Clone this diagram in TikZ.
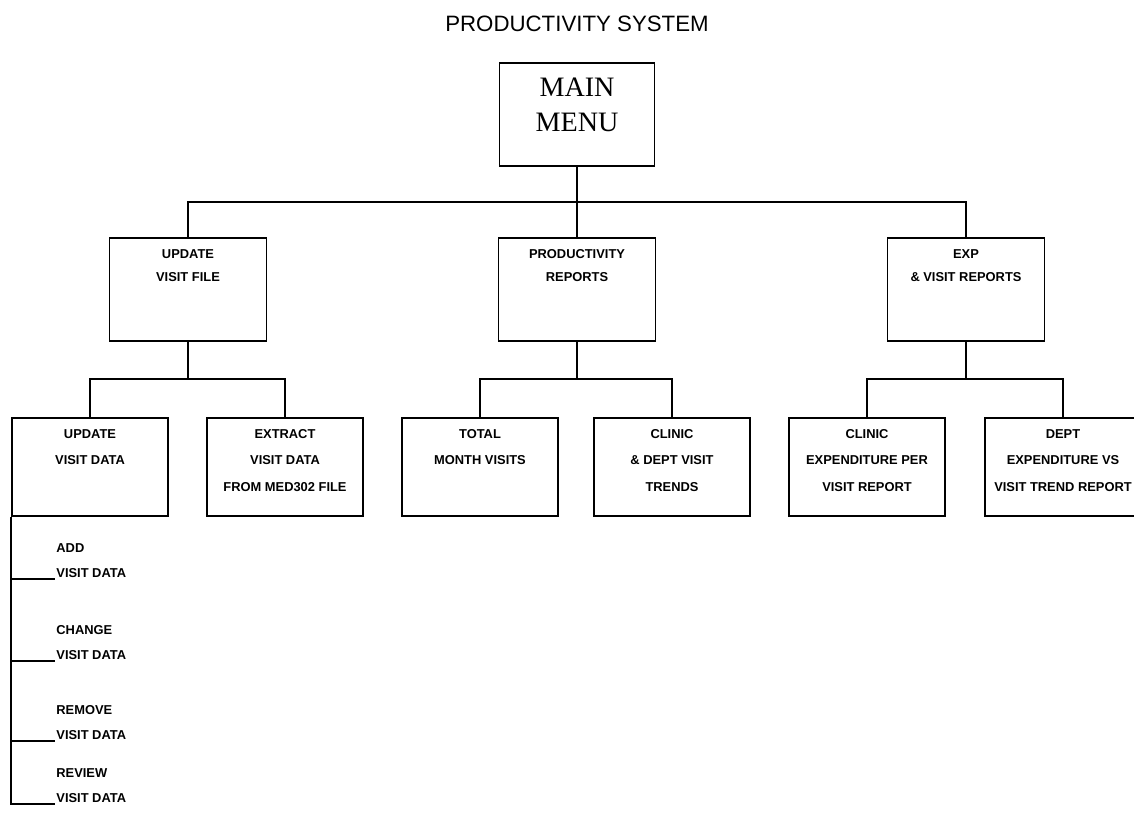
\documentclass[tikz,border=0pt]{standalone}
\usepackage{fontspec}
\setmainfont{Liberation Sans}
\newfontfamily\menufont{Liberation Serif}
\usetikzlibrary{positioning}
\tikzset{
    heading/.style={
        font=\fontsize{19}{22}\selectfont
    },
    menubox/.style={
        rectangle, minimum width=4.65cm, minimum height=3.09cm,
        inner sep=0pt, draw=black, line width=1.3pt
    },
    menutext/.style={
        align=center, inner sep=0pt, font=\menufont\fontsize{24}{30}\selectfont
    },
    groupbox/.style={
        rectangle, minimum width=4.7cm, minimum height=3.09cm,
        inner sep=0pt, draw=black, line width=1.3pt
    },
    taskbox/.style={
        rectangle, minimum width=4.68cm, minimum height=2.94cm,
        inner sep=0pt, draw=black, line width=1.3pt
    },
    grouptext/.style={
        align=center, inner sep=0pt, font=\bfseries\fontsize{11}{19.5}\selectfont
    },
    boxtext/.style={
        align=center, inner sep=0pt, font=\bfseries\fontsize{11}{22.5}\selectfont
    },
    itemtext/.style={
        anchor=south west, align=left, inner sep=1pt,
        font=\bfseries\fontsize{11}{21}\selectfont
    },
    link/.style={
        draw=black, line width=1.3pt
    }
}

\begin{document}
\begin{tikzpicture}[x=0.03cm, y=-0.03cm, node distance=0.36cm]

    \useasboundingbox (0,0) rectangle (1134,823);

    \node[heading]              (title)   at (577,24)    {PRODUCTIVITY SYSTEM};
    \node[menubox]              (main)    at (577,114.5) {};

    \node[groupbox]             (upfile)  at (188,289.5) {};
    \node[groupbox]             (prodrep) at (577,289.5) {};
    \node[groupbox]             (expvis)  at (966,289.5) {};

    \node[taskbox]              (upvisit) at (90,467)    {};
    \node[taskbox]              (extract) at (285,467)   {};
    \node[taskbox]              (total)   at (480,467)   {};
    \node[taskbox]              (trend)   at (672,467)   {};
    \node[taskbox]              (clinexp) at (867,467)   {};
    \node[taskbox]              (deptexp) at (1063,467)  {};

    \node[menutext, below=0.45cm of main.north] (main-t) {MAIN\\MENU};

    \node[grouptext, below=of upfile.north]  (upfile-t)  {UPDATE\\VISIT FILE};
    \node[grouptext, below=of prodrep.north] (prodrep-t) {PRODUCTIVITY\\REPORTS};
    \node[grouptext, below=of expvis.north]  (expvis-t)  {EXP\\\& VISIT REPORTS};

    \node[boxtext, below=of upvisit.north]  (upvisit-t) {UPDATE\\VISIT DATA};
    \node[boxtext, below=of extract.north]  (extract-t) {EXTRACT\\VISIT DATA\\FROM MED302 FILE};
    \node[boxtext, below=of total.north]    (total-t)   {TOTAL\\MONTH VISITS};
    \node[boxtext, below=of trend.north]    (trend-t)   {CLINIC\\\& DEPT VISIT\\TRENDS};
    \node[boxtext, below=of clinexp.north]  (clinexp-t) {CLINIC\\EXPENDITURE PER\\VISIT REPORT};
    \node[boxtext, below=of deptexp.north]  (deptexp-t) {DEPT\\EXPENDITURE VS\\VISIT TREND REPORT};

    \node[itemtext] (addv)    at (55,579) {ADD\\VISIT DATA};
    \node[itemtext] (changev) at (55,661) {CHANGE\\VISIT DATA};
    \node[itemtext] (removev) at (55,741) {REMOVE\\VISIT DATA};
    \node[itemtext] (reviewv) at (55,804) {REVIEW\\VISIT DATA};

    \draw[link] (main.south) -- ++(0,35) -| (upfile.north);
    \draw[link] (main.south) -- ++(0,35) -| (prodrep.north);
    \draw[link] (main.south) -- ++(0,35) -| (expvis.north);

    \draw[link] (upfile.south)  -- ++(0,37) -| (upvisit.north);
    \draw[link] (upfile.south)  -- ++(0,37) -| (extract.north);
    \draw[link] (prodrep.south) -- ++(0,37) -| (total.north);
    \draw[link] (prodrep.south) -- ++(0,37) -| (trend.north);
    \draw[link] (expvis.south)  -- ++(0,37) -| (clinexp.north);
    \draw[link] (expvis.south)  -- ++(0,37) -| (deptexp.north);

    \draw[link] (upvisit.south west) |- (addv.south west);
    \draw[link] (upvisit.south west) |- (changev.south west);
    \draw[link] (upvisit.south west) |- (removev.south west);
    \draw[link] (upvisit.south west) |- (reviewv.south west);

\end{tikzpicture}
\end{document}
